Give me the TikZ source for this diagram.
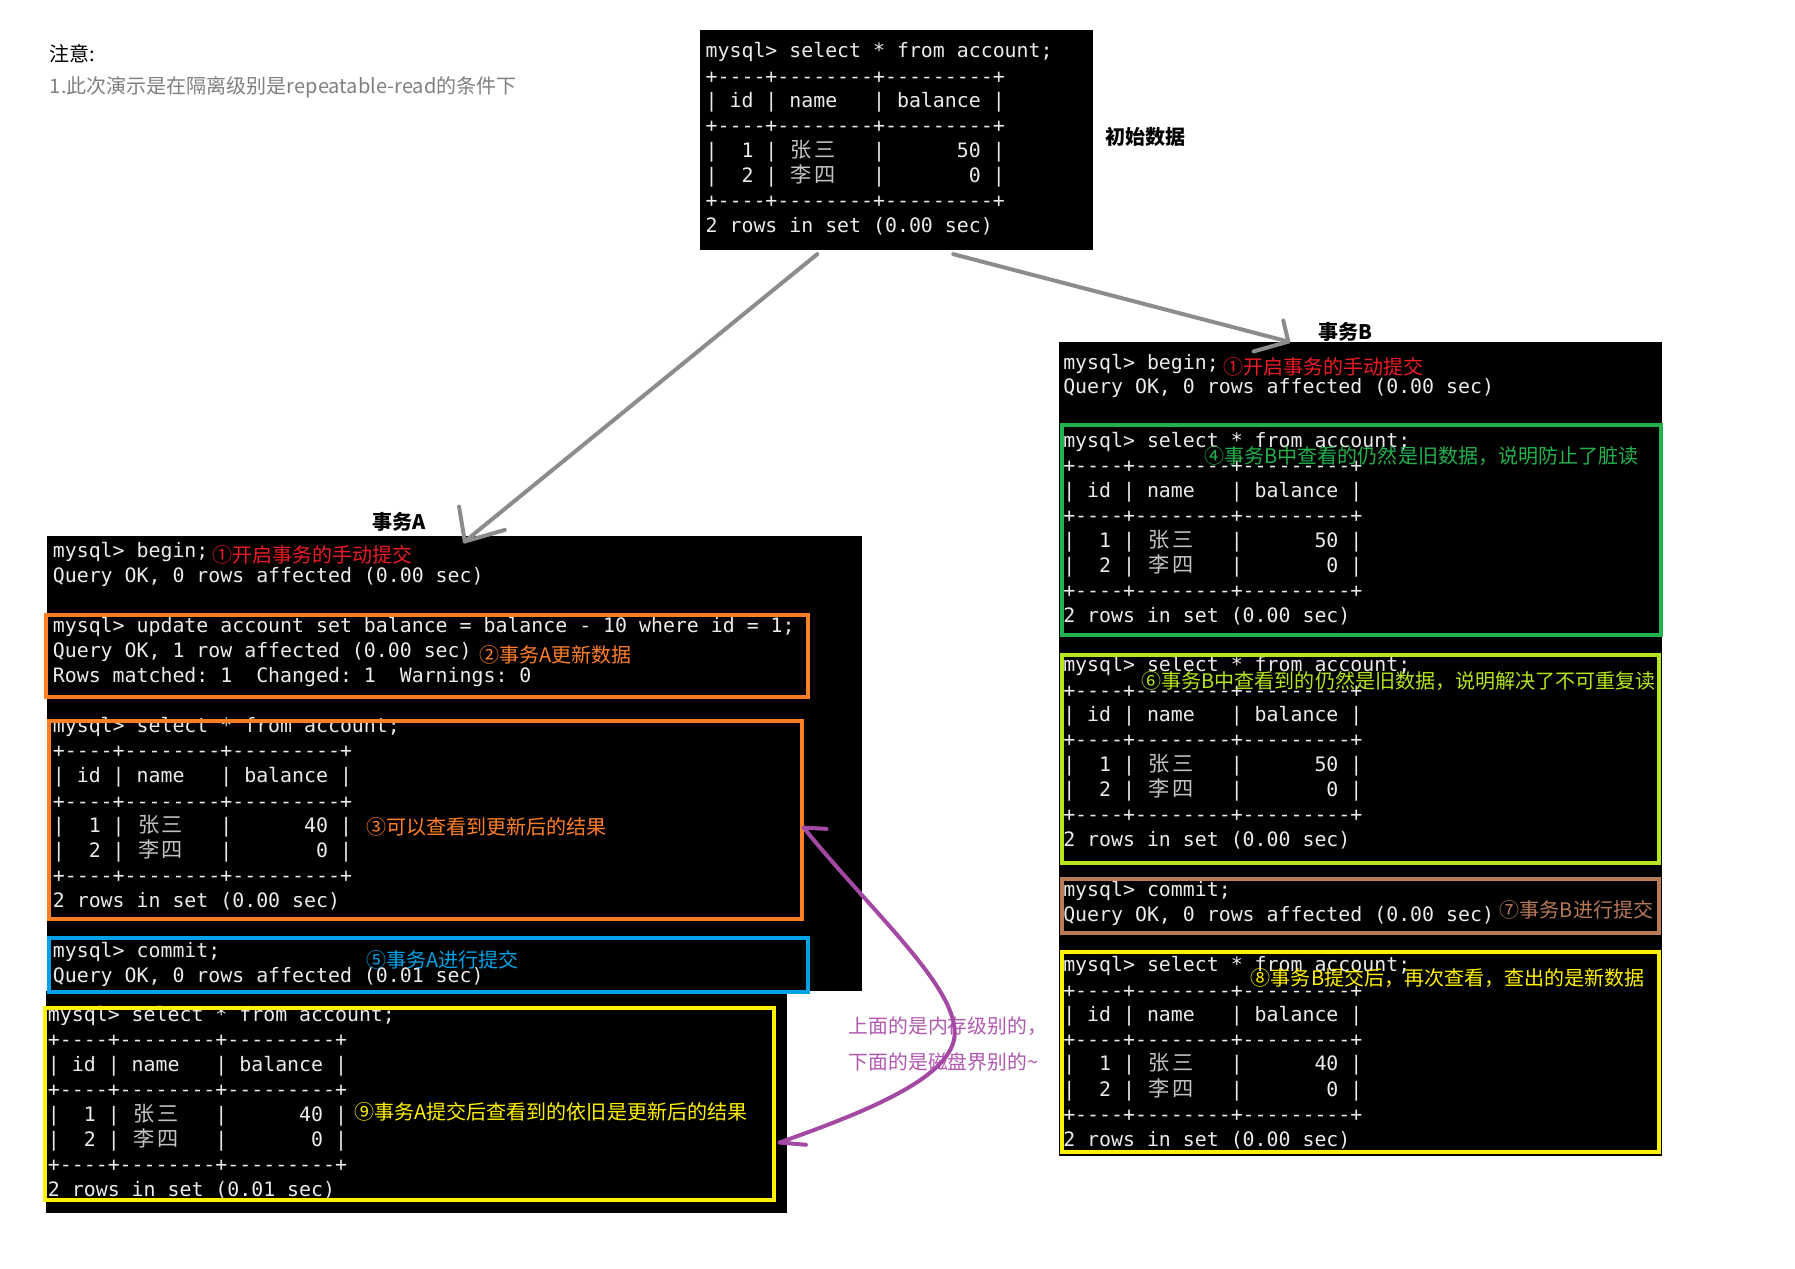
\documentclass[tikz,border=0pt]{standalone}
\usepackage{fontspec}
\setmonofont{DejaVu Sans Mono}
\newfontfamily\cjk{Noto Sans CJK SC}
\definecolor{termfg}{RGB}{235,235,235}
\definecolor{termcjk}{RGB}{195,195,195}
\definecolor{cred}{HTML}{ED1C24}
\definecolor{corange}{HTML}{FF7F27}
\definecolor{cblue}{HTML}{00A2E8}
\definecolor{cgreen}{HTML}{22B14C}
\definecolor{cyg}{HTML}{B5E61D}
\definecolor{cbrown}{HTML}{B97A57}
\definecolor{cyellow}{HTML}{FFF200}
\definecolor{cpurple}{HTML}{A349A4}
\definecolor{ptext}{RGB}{176,88,176}
\definecolor{agray}{RGB}{140,140,140}
\definecolor{notegray}{RGB}{128,128,128}
\newcommand\termfont{\ttfamily\fontsize{17.36}{20}\selectfont\frenchspacing}
\newcommand\labfont{\cjk\fontsize{17.5}{20}\selectfont}
\newcommand\cz[1]{\makebox[20.9pt][c]{\color{termcjk}\cjk\fontsize{18.5}{20}\selectfont #1}}
\newcommand\TSep{+----+--------+---------+}
\newcommand\THdr{|~id~|~name~~~|~balance~|}
\newcommand\TRowA[1]{|~~1~|~\cz{张}\cz{三}~~~|~~~~~~#1~|}
\newcommand\TRowB{|~~2~|~\cz{李}\cz{四}~~~|~~~~~~~0~|}
\newcommand\TL[4]{\node[term,anchor=base west] (#1) at (#2,#3+5.5) {#4};}
\begin{document}
\begin{tikzpicture}[x=1pt,y=-1pt,
  term/.style={inner sep=0pt,text=termfg,font=\termfont},
  lab/.style={inner sep=0pt,anchor=west,font=\labfont},
  note/.style={inner sep=0pt,anchor=west,font=\cjk\fontsize{17.5}{20}\selectfont},
  title/.style={inner sep=0pt,font=\cjk\bfseries\fontsize{17.5}{20}\selectfont},
  ptxt/.style={inner sep=0pt,anchor=west,text=ptext,font=\cjk\fontsize{17.3}{20}\selectfont},
  cbox/.style={line width=3.5pt},
  gar/.style={draw=agray,line width=3.5pt,line cap=round,line join=round},
  pur/.style={draw=cpurple,line width=3.5pt,line cap=round,line join=round}]
\useasboundingbox (0,0) rectangle (1568,1108);
\fill[white] (0,0) rectangle (1568,1108);

% notes
\node[note,text=black] (n1) at (43.4,46.6) {注意:};
\node[note,text=notegray] (n2) at (43.4,76.5) {1.此次演示是在隔离级别是repeatable-read的条件下};

% black terminal backgrounds
\fill[black] (611.6,26.2) rectangle (954.5,218.3);
\fill[black] (41.1,468.1) rectangle (753.4,866);
\fill[black] (40.1,866) rectangle (687.5,1059.7);
\fill[black] (925,298.9) rectangle (1452,1010.2);

% titles
\node[title] (init) at (1001,119.4) {初始数据};
\node[title] (tA) at (349,455.6) {事务A};
\node[title] (tB) at (1175.3,289.7) {事务B};

% initial data
\TL{t1}{616.2}{45.1}{mysql> select * from account;}
\TL{t2}{616.2}{67.5}{\TSep}
\TL{t3}{616.2}{88.8}{\THdr}
\TL{t4}{616.2}{110.6}{\TSep}
\TL{t5}{616.2}{132.5}{\TRowA{50}}
\TL{t6}{616.2}{153.7}{\TRowB}
\TL{t7}{616.2}{176.1}{\TSep}
\TL{t8}{616.2}{198}{2 rows in set (0.00 sec)}

% transaction A
\TL{a1}{46}{481.8}{mysql> begin;}
\TL{a2}{46}{503.6}{Query OK, 0 rows affected (0.00 sec)}
\TL{a3}{46}{547.3}{mysql> update account set balance = balance - 10 where id = 1;}
\TL{a4}{46}{569.1}{Query OK, 1 row affected (0.00 sec)}
\TL{a5}{46}{591}{Rows matched: 1~~Changed: 1~~Warnings: 0}
\TL{a6}{46}{634.6}{mysql> select * from account;}
\TL{a7}{46}{656.5}{\TSep}
\TL{a8}{46}{678.3}{\THdr}
\TL{a9}{46}{700.7}{\TSep}
\TL{a10}{46}{722}{\TRowA{40}}
\TL{a11}{46}{743.2}{\TRowB}
\TL{a12}{46}{765.6}{\TSep}
\TL{a13}{46}{787.5}{2 rows in set (0.00 sec)}
\TL{a14}{46}{831.1}{mysql> commit;}
\TL{a15}{46}{852.4}{Query OK, 0 rows affected (0.01 sec)}
\TL{a16}{41.7}{886.5}{mysql> select * from account;}
\TL{a17}{41.7}{908.9}{\TSep}
\TL{a18}{41.7}{930.1}{\THdr}
\TL{a19}{41.7}{952}{\TSep}
\TL{a20}{41.7}{973.8}{\TRowA{40}}
\TL{a21}{41.7}{995.6}{\TRowB}
\TL{a22}{41.7}{1018}{\TSep}
\TL{a23}{41.7}{1039.3}{2 rows in set (0.01 sec)}

% transaction B
\TL{b1}{928.6}{317}{mysql> begin;}
\TL{b2}{928.6}{338.6}{Query OK, 0 rows affected (0.00 sec)}
\TL{b3}{928.6}{385.7}{mysql> select * from account;}
\TL{b4}{928.6}{407.6}{\TSep}
\TL{b5}{928.6}{429.4}{\THdr}
\TL{b6}{928.6}{451.2}{\TSep}
\TL{b7}{928.6}{472.5}{\TRowA{50}}
\TL{b8}{928.6}{494.3}{\TRowB}
\TL{b9}{928.6}{516.7}{\TSep}
\TL{b10}{928.6}{538}{2 rows in set (0.00 sec)}
\TL{b11}{928.6}{580.8}{mysql> select * from account;}
\TL{b12}{928.6}{603.5}{\TSep}
\TL{b13}{928.6}{625}{\THdr}
\TL{b14}{928.6}{646.9}{\TSep}
\TL{b15}{928.6}{668}{\TRowA{50}}
\TL{b16}{928.6}{690}{\TRowB}
\TL{b17}{928.6}{712.4}{\TSep}
\TL{b18}{928.6}{733.6}{2 rows in set (0.00 sec)}
\TL{b19}{928.6}{777.9}{mysql> commit;}
\TL{b20}{928.6}{799.1}{Query OK, 0 rows affected (0.00 sec)}
\TL{b21}{928.6}{842.8}{mysql> select * from account;}
\TL{b22}{928.6}{866}{\TSep}
\TL{b23}{928.6}{886.5}{\THdr}
\TL{b24}{928.6}{908.9}{\TSep}
\TL{b25}{928.6}{930}{\TRowA{40}}
\TL{b26}{928.6}{952}{\TRowB}
\TL{b27}{928.6}{974.4}{\TSep}
\TL{b28}{928.6}{995.6}{2 rows in set (0.00 sec)}

% coloured frames
\draw[cbox,corange] (40.5,537.5) rectangle (705.5,608.5);
\draw[cbox,corange] (42.5,629.5) rectangle (701,803);
\draw[cbox,cblue] (42.5,819.5) rectangle (705.5,866.5);
\draw[cbox,cyellow] (39.5,880.5) rectangle (676.5,1048);
\draw[cbox,cgreen] (927.5,371.5) rectangle (1450.5,554.5);
\draw[cbox,cyg] (927.5,572.5) rectangle (1449,753.5);
\draw[cbox,cbrown] (927.5,767.5) rectangle (1449,815);
\draw[cbox,cyellow] (927.5,832) rectangle (1449,1006);

% labels
\node[lab,text=cred] (l1) at (185.5,484.7) {①开启事务的手动提交};
\node[lab,text=corange] (l2) at (418.5,572) {②事务A更新数据};
\node[lab,text=corange] (l3) at (319.8,722) {③可以查看到更新后的结果};
\node[lab,text=cblue] (l5) at (319.8,838.4) {⑤事务A进行提交};
\node[lab,text=cyellow] (l9) at (309.4,970.9) {⑨事务A提交后查看到的依旧是更新后的结果};
\node[lab,text=cred] (m1) at (1068.4,320.2) {①开启事务的手动提交};
\node[lab,text=cgreen] (l4) at (1052,398.3) {④事务B中查看的仍然是旧数据，说明防止了脏读};
\node[lab,text=cyg] (l6) at (997,595.3) {⑥事务B中查看到的仍然是旧数据，说明解决了不可重复读};
\node[lab,text=cbrown] (l7) at (1310,794.8) {⑦事务B进行提交};
\node[lab,text=cyellow] (l8) at (1092.5,854.4) {⑧事务B提交后，再次查看，查出的是新数据};

% gray arrows
\coordinate (gA0) at (713.9,222);
\coordinate (gA1) at (406,473);
\draw[gar] (gA0) -- (gA1);
\draw[gar] (401,442.5) -- (gA1) -- (441,462.9);
\coordinate (gB0) at (832.7,222);
\coordinate (gB1) at (1125.4,298.4);
\draw[gar] (gB0) -- (gB1);
\draw[gar] (1121,280) -- (gB1) -- (1095,307);

% purple note and curve
\node[ptxt] (pt1) at (741.4,896.7) {上面的是内存级别的，};
\node[ptxt] (pt2) at (741.4,927.2) {下面的是磁盘界别的\textasciitilde};
\coordinate (pTop) at (702,723);
\coordinate (pBot) at (681,998);
\draw[pur] (pTop) .. controls (760,795) and (834,860) .. (834,902) .. controls (834,940) and (760,970) .. (pBot);
\draw[pur] (pTop) -- (722,724);
\draw[pur] (pBot) -- (704,1000);
\end{tikzpicture}
\end{document}
